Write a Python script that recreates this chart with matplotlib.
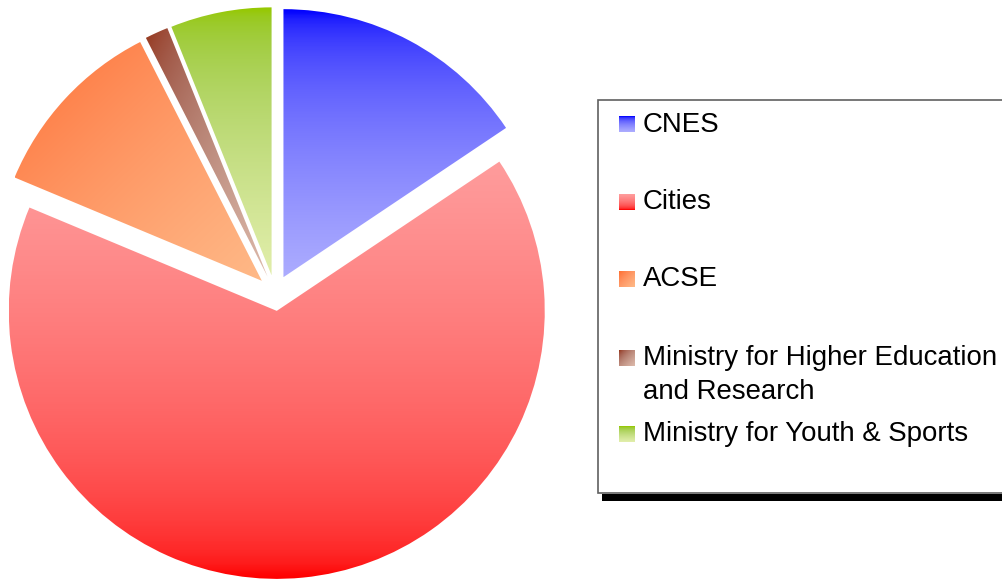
import numpy as np
import matplotlib
matplotlib.use("Agg")
import matplotlib.pyplot as plt
from matplotlib.colors import LinearSegmentedColormap
from matplotlib.patches import Rectangle

plt.rcParams['font.family'] = ['Liberation Sans', 'DejaVu Sans']

# data
labels = ["CNES", "Cities", "ACSE",
          "Ministry for Higher Education\nand Research",
          "Ministry for Youth & Sports"]
shares = [15.6, 65.7, 11.2, 1.4, 6.1]

# gradient ends (start colour, end colour) and direction for each slice
grad_start = ["#0000ff", "#ff9c9c", "#ff7030", "#963719", "#96c800"]
grad_end = ["#acacff", "#ff0000", "#ffb987", "#dcb9aa", "#e1eeaa"]
grad_dir = ["v", "v", "d", "d", "v"]

W, H = 1002, 580
R_PX = 268          # pie radius in pixels
CX, CY = 275, 293   # pie centre in pixels (from top)


def lin(c):
    c = np.asarray(c, float)
    return np.where(c <= 0.04045, c / 12.92, ((c + 0.055) / 1.055) ** 2.4)


def srgb(l):
    l = np.asarray(l, float)
    return np.where(l <= 0.0031308, 12.92 * l, 1.055 * l ** (1 / 2.4) - 0.055)


def grad_cmap(c0, c1):
    # blend in linear light, like the original renderer seems to
    a = lin(matplotlib.colors.to_rgb(c0))
    b = lin(matplotlib.colors.to_rgb(c1))
    ts = np.linspace(0, 1, 33)
    cols = [tuple(np.clip(srgb(a + (b - a) * t), 0, 1)) for t in ts]
    return LinearSegmentedColormap.from_list("g", cols)


def grad_array(kind, n=200):
    u, v = np.meshgrid(np.linspace(0, 1, n), np.linspace(0, 1, n))
    if kind == "v":
        return v
    return (u + v) / 2


fig = plt.figure(figsize=(W / 100, H / 100), dpi=100)

ax = fig.add_axes([0, 0, 1, 1])
wedges, _ = ax.pie(shares, startangle=90, counterclock=False,
                   explode=[0.067] * len(shares), radius=1,
                   wedgeprops=dict(linewidth=0))
for i, w in enumerate(wedges):
    w.set_facecolor("none")
    w.set_edgecolor("none")
    bb = w.get_path().get_extents()
    im = ax.imshow(grad_array(grad_dir[i]), cmap=grad_cmap(grad_start[i], grad_end[i]),
                   extent=[bb.x0, bb.x1, bb.y0, bb.y1], origin="upper",
                   aspect="auto", interpolation="bilinear", vmin=0, vmax=1)
    im.set_clip_path(w)
ax.set_aspect("auto")
ax.set_xlim(-CX / R_PX, (W - CX) / R_PX)
ax.set_ylim(-(H - CY) / R_PX, CY / R_PX)
ax.axis("off")

# legend drawn in pixel coordinates
lax = fig.add_axes([0, 0, 1, 1], facecolor="none")
lax.axis("off")
lax.add_patch(Rectangle((602, 494), 420, 7, facecolor="black", edgecolor="none"))
lax.add_patch(Rectangle((598, 100), 420, 393, facecolor="white",
                        edgecolor="#606060", linewidth=1.2))

marker_top = [116, 194, 271, 350, 426]
text_base = [132, 209, 286, 365, 441]
for i, lab in enumerate(labels):
    y0 = marker_top[i]
    lax.imshow(grad_array(grad_dir[i], 20), cmap=grad_cmap(grad_start[i], grad_end[i]),
               extent=[619, 635, y0 + 16, y0], origin="upper", aspect="auto",
               interpolation="bilinear", vmin=0, vmax=1, zorder=3)
    for k, line in enumerate(lab.split("\n")):
        lax.text(643, text_base[i] + 34 * k, line, fontsize=19.9,
                 va="baseline", ha="left", color="black", zorder=4)
lax.set_xlim(0, W)
lax.set_ylim(H, 0)

fig.savefig("out.png", dpi=100)
